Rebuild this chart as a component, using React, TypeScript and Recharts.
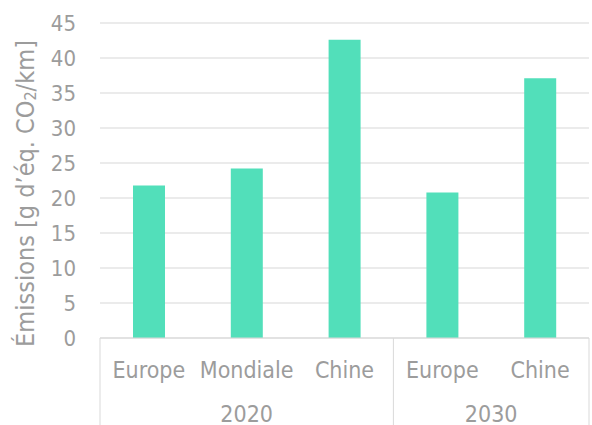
import { BarChart, Bar, XAxis, YAxis, CartesianGrid } from "recharts";

const categories = ["Europe", "Mondiale", "Chine", "Europe", "Chine"];
const years = ["2020", "2020", "2020", "2030", "2030"];
const emissions = [21.8, 24.2, 42.6, 20.8, 37.1];
const yTicks = [0, 5, 10, 15, 20, 25, 30, 35, 40, 45];

const data = categories.map((c, i) => ({
  key: `${years[i]}-${c}`,
  name: c,
  year: years[i],
  value: emissions[i],
}));

const TEXT = "#9c9c9c";
const LINE = "#d9d9d9";
const FONT = "'DejaVu Sans Condensed', 'DejaVu Sans', sans-serif";

// multi-level category tick: label, group separators and group (year) label
// (tick y sits 8px below the axis line: tickSize + tickMargin)
const CategoryTick = (props: any) => {
  const { x, y, payload } = props;
  const i = payload.index;
  const half = payload.offset;
  const year = years[i];
  const first = i === 0 || years[i - 1] !== year;
  const last = i === years.length - 1 || years[i + 1] !== year;
  const groupSize = years.filter((yr) => yr === year).length;
  const groupCenter = x + half - groupSize * half;
  return (
    <g>
      <text
        x={x}
        y={y + 32}
        textAnchor="middle"
        fill={TEXT}
        fontSize={23}
        fontFamily={FONT}
      >
        {categories[i]}
      </text>
      {first && (
        <line x1={x - half} x2={x - half} y1={y - 8} y2={y + 82} stroke={LINE} strokeWidth={1} />
      )}
      {i === years.length - 1 && (
        <line x1={x + half} x2={x + half} y1={y - 8} y2={y + 82} stroke={LINE} strokeWidth={1} />
      )}
      {last && (
        <text
          x={groupCenter}
          y={y + 76}
          textAnchor="middle"
          fill={TEXT}
          fontSize={23}
          fontFamily={FONT}
        >
          {year}
        </text>
      )}
    </g>
  );
};

const AxisTitle = (props: any) => {
  const { viewBox } = props;
  const cx = viewBox.x + 25;
  const cy = viewBox.y + viewBox.height / 2 + 13;
  return (
    <text
      x={cx}
      y={cy}
      transform={`rotate(-90, ${cx}, ${cy})`}
      textAnchor="middle"
      dominantBaseline="central"
      fill={TEXT}
      fontSize={25}
      fontFamily={FONT}
    >
      Émissions [g d’éq. CO
      <tspan fontSize={16} dy={5}>2</tspan>
      <tspan dy={-5}>/km]</tspan>
    </text>
  );
};

export default function App() {
  return (
    <div style={{ position: "absolute", left: 0, top: 0, background: "#fff" }}>
      <BarChart
        width={592}
        height={425}
        data={data}
        margin={{ top: 23, right: 3, bottom: 0, left: 0 }}
      >
        <CartesianGrid vertical={false} stroke="#e4e4e4" strokeWidth={1.5} />
        <XAxis
          dataKey="key"
          height={87}
          interval={0}
          axisLine={{ stroke: LINE }}
          tickLine={false}
          tick={<CategoryTick />}
        />
        <YAxis
          width={100}
          domain={[0, 45]}
          ticks={yTicks}
          interval={0}
          axisLine={false}
          tickLine={false}
          tickMargin={18}
          tick={{ fill: TEXT, fontSize: 22, fontFamily: FONT }}
          label={<AxisTitle />}
        />
        <Bar dataKey="value" fill="#52dfba" barSize={32} isAnimationActive={false} />
      </BarChart>
    </div>
  );
}
